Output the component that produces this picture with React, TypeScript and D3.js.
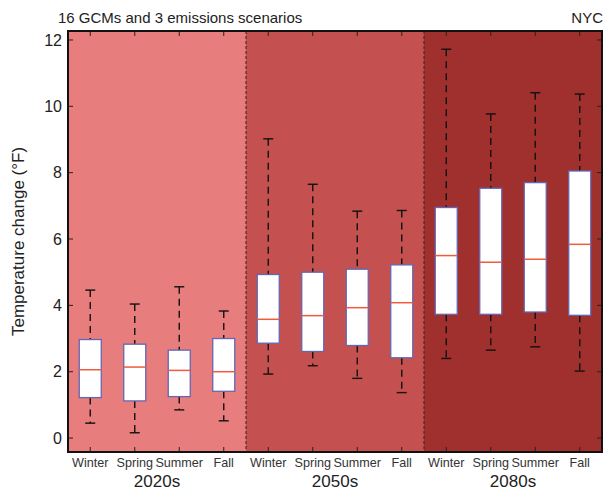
import React from 'react';
import * as d3 from 'd3';

const decades = ['2020s', '2050s', '2080s'];
const seasons = ['Winter', 'Spring', 'Summer', 'Fall'];
const yTicks = [0, 2, 4, 6, 8, 10, 12];
const sectionColors = ['#e87d7d', '#c4514f', '#a0302e'];

// per box, in order 2020s W/Sp/Su/F, 2050s ..., 2080s ...
const whiskerLow = [0.45, 0.16, 0.85, 0.52, 1.93, 2.18, 1.8, 1.37, 2.4, 2.65, 2.75, 2.02];
const q1 = [1.22, 1.12, 1.25, 1.41, 2.86, 2.61, 2.79, 2.42, 3.73, 3.73, 3.8, 3.7];
const median = [2.06, 2.14, 2.04, 2.0, 3.58, 3.69, 3.93, 4.08, 5.5, 5.3, 5.39, 5.84];
const q3 = [2.97, 2.83, 2.65, 3.0, 4.93, 5.0, 5.09, 5.22, 6.95, 7.53, 7.7, 8.05];
const whiskerHigh = [4.46, 4.04, 4.56, 3.83, 9.02, 7.65, 6.84, 6.86, 11.72, 9.77, 10.41, 10.37];

const W = 612;
const H = 493;
const left = 68;
const right = 602;
const top = 31;
const bottom = 452;
const font = 'Liberation Sans, Arial, Helvetica, sans-serif';

export default function App() {
  const boxes = decades.flatMap((d, di) =>
    seasons.map((s, si) => ({ decade: d, season: s, i: di * 4 + si }))
  );

  const x = d3.scaleLinear().domain([0.5, 12.5]).range([left, right]);
  const y = d3.scaleLinear().domain([-0.42, 12.27]).range([bottom, top]);
  const boxW = 22;
  const capW = 10;

  return (
    <svg width={W} height={H} style={{ position: 'absolute', left: 0, top: 0 }}>
      {decades.map((d, di) => (
        <rect
          key={d}
          x={x(di * 4 + 0.5)}
          y={top}
          width={x(di * 4 + 4.5) - x(di * 4 + 0.5)}
          height={bottom - top}
          fill={sectionColors[di]}
        />
      ))}
      {[1, 2].map((k) => (
        <line
          key={k}
          x1={x(k * 4 + 0.5)}
          x2={x(k * 4 + 0.5)}
          y1={top}
          y2={bottom}
          stroke="#3a2020"
          strokeWidth={1}
          strokeDasharray="3,2"
        />
      ))}
      {/* ticks */}
      {yTicks.map((t) => (
        <g key={t}>
          <line x1={left} x2={left + 5} y1={y(t)} y2={y(t)} stroke="#222" />
          <line x1={right - 5} x2={right} y1={y(t)} y2={y(t)} stroke="#222" />
          <text x={left - 6} y={y(t)} dy="0.35em" textAnchor="end" fontFamily={font} fontSize={16} fill="#222">
            {t}
          </text>
        </g>
      ))}
      {boxes.map((b) => (
        <g key={'t' + b.i}>
          <line x1={x(b.i + 1)} x2={x(b.i + 1)} y1={top} y2={top + 5} stroke="#222" />
          <line x1={x(b.i + 1)} x2={x(b.i + 1)} y1={bottom - 5} y2={bottom} stroke="#222" />
        </g>
      ))}
      {/* boxes */}
      {boxes.map((b) => {
        const cx = x(b.i + 1);
        return (
          <g key={b.i}>
            <line x1={cx} x2={cx} y1={y(whiskerHigh[b.i])} y2={y(q3[b.i])} stroke="#111" strokeWidth={1.4} strokeDasharray="7,5" />
            <line x1={cx} x2={cx} y1={y(q1[b.i])} y2={y(whiskerLow[b.i])} stroke="#111" strokeWidth={1.4} strokeDasharray="7,5" />
            <line x1={cx - capW / 2} x2={cx + capW / 2} y1={y(whiskerHigh[b.i])} y2={y(whiskerHigh[b.i])} stroke="#111" strokeWidth={1.4} />
            <line x1={cx - capW / 2} x2={cx + capW / 2} y1={y(whiskerLow[b.i])} y2={y(whiskerLow[b.i])} stroke="#111" strokeWidth={1.4} />
            <rect
              x={cx - boxW / 2}
              y={y(q3[b.i])}
              width={boxW}
              height={y(q1[b.i]) - y(q3[b.i])}
              fill="#fff"
              stroke="#6466b4"
              strokeWidth={1.3}
            />
            <line x1={cx - boxW / 2} x2={cx + boxW / 2} y1={y(median[b.i])} y2={y(median[b.i])} stroke="#f25a3a" strokeWidth={1.5} />
            <text x={cx} y={467} textAnchor="middle" fontFamily={font} fontSize={12.6} fill="#333">
              {b.season}
            </text>
          </g>
        );
      })}
      <rect x={left} y={top} width={right - left} height={bottom - top} fill="none" stroke="#111" strokeWidth={2} />
      {decades.map((d, di) => (
        <text key={d} x={x(di * 4 + 2.5)} y={487} textAnchor="middle" fontFamily={font} fontSize={17} fill="#222">
          {d}
        </text>
      ))}
      <text x={58} y={23} fontFamily={font} fontSize={15} fill="#222">
        16 GCMs and 3 emissions scenarios
      </text>
      <text x={603} y={23} textAnchor="end" fontFamily={font} fontSize={15} fill="#222">
        NYC
      </text>
      <text
        transform={`translate(24, ${(top + bottom) / 2}) rotate(-90)`}
        textAnchor="middle"
        fontFamily={font}
        fontSize={17}
        fill="#222"
      >
        Temperature change (°F)
      </text>
    </svg>
  );
}
